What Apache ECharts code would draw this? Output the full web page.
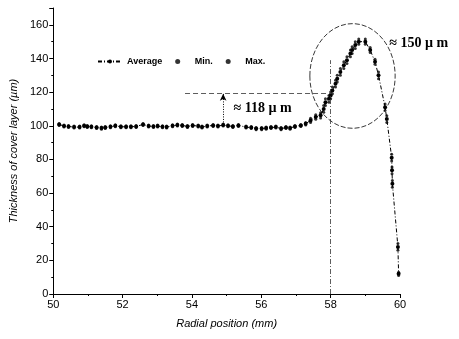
<!DOCTYPE html>
<html>
<head>
<meta charset="utf-8">
<script src="https://cdn.jsdelivr.net/npm/echarts@6/dist/echarts.min.js"></script>
<style>
  html, body { margin: 0; padding: 0; background: #fff; }
  #chart { width: 459px; height: 339px; }
</style>
</head>
<body>
<div id="chart"></div>
<script>
// radial position (mm)
const radialPos = [
  50.17, 50.31, 50.44, 50.6, 50.76, 50.89, 50.98, 51.1, 51.25, 51.39, 51.5, 51.65, 51.79, 51.95, 52.1, 52.24, 52.39, 52.59,
  52.75, 52.89, 53.01, 53.15, 53.27, 53.44, 53.58, 53.72, 53.87, 54.02, 54.18, 54.29, 54.44, 54.61, 54.75, 54.9, 55.04, 55.18, 55.34,
  55.56, 55.71, 55.85, 56.01, 56.14, 56.28, 56.42, 56.57, 56.71, 56.83, 56.97, 57.14, 57.28, 57.42, 57.57,
  57.71, 57.8, 57.85, 57.95, 58.0, 58.05, 58.14, 58.19, 58.28, 58.38, 58.47, 58.57, 58.62, 58.71, 58.81, 59.0, 59.14, 59.28, 59.38,
  59.57, 59.62, 59.76, 59.77, 59.78, 59.94, 59.96
];
// thickness of cover layer (um)
const avgThickness = [
  100.8, 99.8, 99.6, 99.2, 99.2, 100, 99.6, 99.4, 99, 98.6, 99, 99.4, 100, 99.4, 99.4, 99.4, 99.6, 100.8,
  99.8, 99.6, 99.8, 99.4, 99.2, 100, 100.4, 100.2, 99.6, 100.2, 99.8, 99.2, 99.8, 100.2, 99.8, 100.4, 100, 99.6, 100.2,
  99.2, 98.9, 98.3, 98.3, 98.6, 98.9, 99.2, 98.3, 98.9, 98.6, 99.6, 100.2, 101.2, 103.2, 105.2,
  106.2, 110, 114, 116, 118, 121, 125, 128, 132, 136, 139, 143, 145, 148, 150, 150, 145, 138, 130,
  111, 104, 81, 73.5, 65.6, 28, 12
];
const minThickness = [
  100.2, 99.2, 99, 98.6, 98.6, 99.4, 99, 98.8, 98.4, 98, 98.4, 98.8, 99.4, 98.8, 98.8, 98.8, 99, 100.2,
  99.2, 99, 99.2, 98.8, 98.6, 99.4, 99.8, 99.6, 99, 99.6, 99.2, 98.6, 99.2, 99.6, 99.2, 99.8, 99.4, 99, 99.6,
  98.6, 98.3, 97.7, 97.7, 98, 98.3, 98.6, 97.7, 98.3, 98, 99, 99.6, 100.4, 102, 103.8,
  104.6, 108, 112, 114, 116, 119, 123, 126, 130, 134, 137, 141, 143, 146, 148.5, 148.5, 143.5, 136.5, 128,
  109, 102, 79, 71.5, 63.5, 26, 11
];
const maxThickness = [
  101.4, 100.4, 100.2, 99.8, 99.8, 100.6, 100.2, 100, 99.6, 99.2, 99.6, 100, 100.6, 100, 100, 100, 100.2, 101.4,
  100.4, 100.2, 100.4, 100, 99.8, 100.6, 101, 100.8, 100.2, 100.8, 100.4, 99.8, 100.4, 100.8, 100.4, 101, 100.6, 100.2, 100.8,
  99.8, 99.5, 98.9, 98.9, 99.2, 99.5, 99.8, 98.9, 99.5, 99.2, 100.2, 100.8, 102, 104.4, 106.6,
  107.8, 112, 116, 118, 120, 123, 127, 130, 134, 138, 141, 145, 147, 150, 151.5, 151.5, 146.5, 139.5, 132,
  113, 106, 83, 75.5, 67.5, 30, 13
];

// annotations (data coordinates)
const stepLevel = 119.5;
const stepLabel = '≈ 118 µ m';
const peakLabel = '≈ 150 µ m';
const ellipseCenter = [58.63, 129.6];
const ellipseRadius = [1.23, 31.1];

const zip = (ys) => radialPos.map((x, i) => [x, ys[i]]);
const black = '#000';
const labelFont = { color: black, fontSize: 11, fontFamily: 'Liberation Sans, Arial, sans-serif' };

const chart = echarts.init(document.getElementById('chart'));
chart.setOption({
  animation: false,
  backgroundColor: '#fff',
  grid: { left: 51, right: 59, top: 8, bottom: 45 },
  legend: {
    left: 92, top: 52,
    itemGap: 13, itemWidth: 24, itemHeight: 5,
    textStyle: { color: black, fontSize: 9, fontWeight: 'bold', fontFamily: 'Liberation Sans, Arial, sans-serif' },
    data: ['Average', 'Min.', 'Max.']
  },
  xAxis: {
    type: 'value', min: 50, max: 60, interval: 2,
    name: 'Radial position (mm)', nameLocation: 'middle', nameGap: 24,
    nameTextStyle: { ...labelFont, fontStyle: 'italic', fontSize: 11 },
    axisLine: { lineStyle: { color: black, width: 1 } },
    axisTick: { length: 4, lineStyle: { color: black } },
    minorTick: { show: true, splitNumber: 2, length: 2, lineStyle: { color: black } },
    axisLabel: { ...labelFont, margin: 5 },
    splitLine: { show: false }
  },
  yAxis: {
    type: 'value', min: 0, max: 170, interval: 20,
    name: 'Thickness of cover layer (µm)', nameLocation: 'middle', nameGap: 31,
    nameTextStyle: { ...labelFont, fontStyle: 'italic', fontSize: 11 },
    axisLine: { show: true, lineStyle: { color: black, width: 1 } },
    axisTick: { show: true, length: 4, lineStyle: { color: black } },
    minorTick: { show: true, splitNumber: 2, length: 2, lineStyle: { color: black } },
    axisLabel: { ...labelFont, margin: 5, showMaxLabel: false },
    splitLine: { show: false }
  },
  series: [
    {
      name: 'Average', type: 'line', data: zip(avgThickness),
      symbol: 'circle', symbolSize: 4,
      itemStyle: { color: black },
      lineStyle: { color: black, width: 1, type: [4, 2, 1, 2] },
      markLine: {
        silent: true, symbol: ['none', 'none'], label: { show: false },
        data: [
          [{ coord: [53.8, stepLevel], lineStyle: { type: [5, 3], width: 0.8, color: '#333' } }, { coord: [58.0, stepLevel] }],
          [{ coord: [54.9, 100.5], lineStyle: { type: [1, 1.5], width: 1, color: black } },
           { coord: [54.9, stepLevel - 0.5], symbol: 'arrow', symbolSize: [5, 7] }],
          [{ coord: [58.0, 0], lineStyle: { type: [5, 2, 1, 2], width: 0.8, color: '#333' } }, { coord: [58.0, 139] }]
        ]
      }
    },
    {
      name: 'Min.', type: 'scatter', data: zip(minThickness),
      symbol: 'circle', symbolSize: 3, itemStyle: { color: black }
    },
    {
      name: 'Max.', type: 'scatter', data: zip(maxThickness),
      symbol: 'circle', symbolSize: 3, itemStyle: { color: black }
    }
  ]
});

// ellipse and text notes placed through the axis scales
const toPx = (p) => chart.convertToPixel({ gridIndex: 0 }, p);
const c = toPx(ellipseCenter);
const edge = toPx([ellipseCenter[0] + ellipseRadius[0], ellipseCenter[1] + ellipseRadius[1]]);
const stepPos = toPx([55.2, 110.5]);
const peakPos = toPx([59.69, 149]);
const noteFont = 'bold 14px "Liberation Serif", "Times New Roman", serif';
chart.setOption({
  graphic: [
    {
      type: 'ellipse',
      shape: { cx: c[0], cy: c[1], rx: Math.abs(edge[0] - c[0]), ry: Math.abs(c[1] - edge[1]) },
      style: { fill: 'none', stroke: '#222', lineWidth: 0.9, lineDash: [5, 2] },
      silent: true
    },
    {
      type: 'text', x: stepPos[0], y: stepPos[1],
      style: { text: stepLabel, font: noteFont, fill: black, textVerticalAlign: 'middle' }
    },
    {
      type: 'text', x: peakPos[0], y: peakPos[1],
      style: { text: peakLabel, font: noteFont, fill: black, textVerticalAlign: 'middle' }
    }
  ]
});
</script>
</body>
</html>
